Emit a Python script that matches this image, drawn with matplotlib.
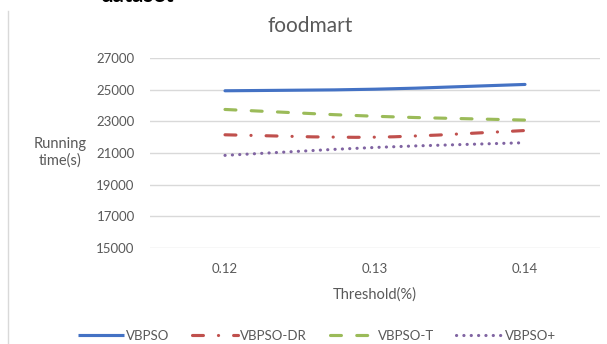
import matplotlib
matplotlib.use("Agg")
import matplotlib.pyplot as plt
from matplotlib.path import Path
from matplotlib.patches import PathPatch
from matplotlib.lines import Line2D

# Data
thresholds = ["0.12", "0.13", "0.14"]
vbpso = [24930, 25030, 25330]
vbpso_dr = [22150, 22000, 22420]
vbpso_t = [23750, 23320, 23080]
vbpso_plus = [20850, 21350, 21650]
y_ticks = [15000, 17000, 19000, 21000, 23000, 25000, 27000]
series_names = ["VBPSO", "VBPSO-DR", "VBPSO-T", "VBPSO+"]

plt.rcParams["font.family"] = ["Lato", "DejaVu Sans"]

W, H = 607, 344
fig = plt.figure(figsize=(W / 100, H / 100), dpi=100)
ax = fig.add_axes([150 / W, 1 - 248 / H, 450 / W, 190 / H])


def smooth_path(xs, ys):
    """Catmull-Rom style cubic Bezier through the points (smoothed line)."""
    n = len(xs)
    verts = [(xs[0], ys[0])]
    codes = [Path.MOVETO]
    for i in range(n - 1):
        p0 = (xs[max(i - 1, 0)], ys[max(i - 1, 0)])
        p1 = (xs[i], ys[i])
        p2 = (xs[i + 1], ys[i + 1])
        p3 = (xs[min(i + 2, n - 1)], ys[min(i + 2, n - 1)])
        c1 = (p1[0] + (p2[0] - p0[0]) / 6, p1[1] + (p2[1] - p0[1]) / 6)
        c2 = (p2[0] - (p3[0] - p1[0]) / 6, p2[1] - (p3[1] - p1[1]) / 6)
        verts += [c1, c2, p2]
        codes += [Path.CURVE4] * 3
    return Path(verts, codes)


colors = ["#4472C4", "#C0504D", "#9BBB59", "#8064A2"]
styles = [
    "solid",
    (0, (3.5, 4.8, 0.05, 4.8)),
    (0, (3.5, 4.9)),
    (0, (0.05, 2.3)),
]
lw = 2.25
xs = list(range(len(thresholds)))
handles = []
for ys, c, ls, name in zip([vbpso, vbpso_dr, vbpso_t, vbpso_plus], colors, styles, series_names):
    patch = PathPatch(smooth_path(xs, ys), fill=False, edgecolor=c, linewidth=lw,
                      linestyle=ls, capstyle="round", joinstyle="round", zorder=3)
    ax.add_patch(patch)
    handles.append(Line2D([], [], color=c, linewidth=lw, linestyle=ls,
                          solid_capstyle="butt", dash_capstyle="round", label=name))

ax.set_xlim(-0.5, len(thresholds) - 0.5)
ax.set_ylim(y_ticks[0], y_ticks[-1])
ax.set_xticks(xs)
ax.set_xticklabels(thresholds)
ax.set_yticks(y_ticks)
ax.set_yticklabels([str(v) for v in y_ticks])
ax.grid(axis="y", color="#D9D9D9", linewidth=1.0)
ax.set_axisbelow(True)
for s in ax.spines.values():
    s.set_visible(False)
ax.tick_params(axis="both", length=0, labelsize=9.5, colors="#595959")
ax.tick_params(axis="y", pad=11)
ax.tick_params(axis="x", pad=11)

ax.set_xlabel("Threshold(%)", fontsize=10.5, color="#595959", labelpad=9)
fig.text(60 / W, 1 - 152 / H, "Running\ntime(s)", ha="center", va="center",
         fontsize=10.5, color="#595959", linespacing=1.2)

fig.text(310 / W, 1 - 26 / H, "foodmart", ha="center", va="center",
         fontsize=15, color="#595959")

# heading text above the chart frame (only its lower edge shows)
fig.text(100 / W, 1 - 2 / H, "dataset", ha="left", va="baseline",
         fontsize=16, fontweight="bold", color="black")

# chart frame left edge
fig.add_artist(Line2D([8 / W, 8 / W], [0, 1 - 11 / H], transform=fig.transFigure,
                      color="#D9D9D9", linewidth=1.0))

fig.legend(handles=handles, loc="center", bbox_to_anchor=(317 / W, 1 - 336 / H),
           ncol=4, frameon=False, fontsize=9.5, handlelength=3.5,
           columnspacing=1.7, handletextpad=0.15, labelcolor="#595959",
           borderpad=0, borderaxespad=0)

fig.savefig("out.png", dpi=100)
